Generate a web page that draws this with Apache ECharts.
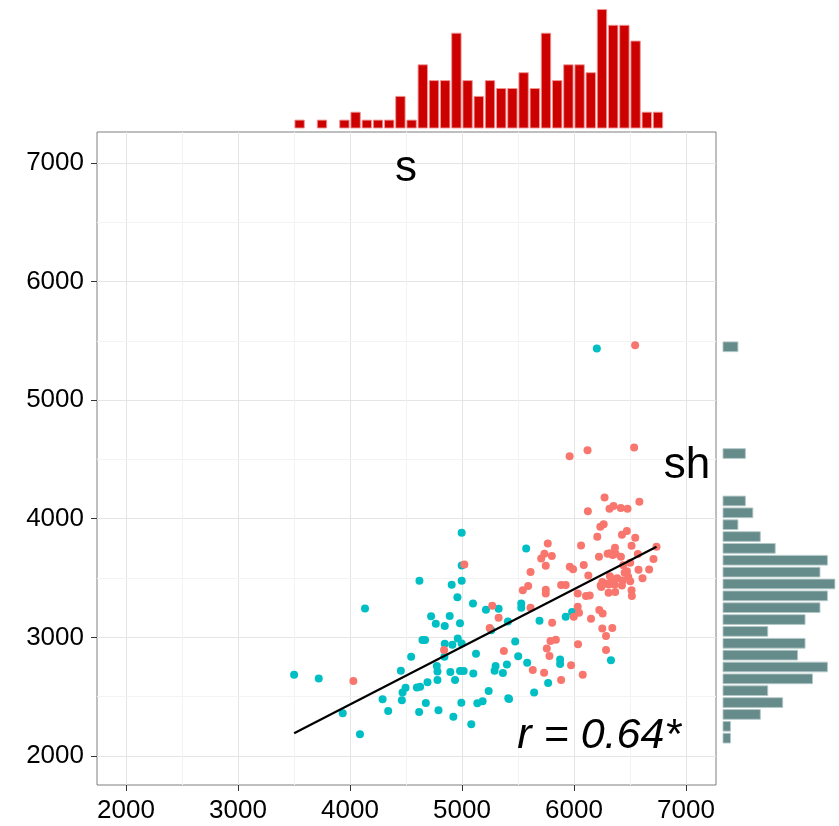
<!DOCTYPE html>
<html>
<head>
<meta charset="utf-8">
<script src="https://cdn.jsdelivr.net/npm/echarts@6/dist/echarts.min.js"></script>
<style>
  html, body { margin: 0; padding: 0; background: #fff; }
  #chart { width: 839px; height: 826px; }
</style>
</head>
<body>
<div id="chart"></div>
<script>
// scatter points, [x, y]
const tealPoints = [
  [3501, 2685], [3721, 2654], [4134, 3244], [3935, 2359], [4089, 2183],
  [4620, 3477], [4997, 3881], [4997, 3606], [4997, 3477], [4908, 3443],
  [4959, 3339], [5098, 3286], [5573, 3749], [5214, 3233], [5327, 3241],
  [5529, 3286], [5529, 3250], [4724, 3177], [4890, 3179], [4766, 3115],
  [4846, 3095], [4982, 3118], [4647, 2977], [4670, 2977], [4962, 2991],
  [4914, 2938], [4846, 2946], [4997, 2949], [4843, 2837], [4546, 2837],
  [5125, 2862], [4775, 2758], [4781, 2713], [4781, 2640], [4454, 2719],
  [4896, 2708], [4982, 2716], [5015, 2716], [5101, 2696], [4938, 2640],
  [4692, 2621], [4597, 2578], [4626, 2584], [4496, 2576], [4469, 2534],
  [4291, 2477], [4463, 2469], [4341, 2379], [4677, 2446], [4617, 2371],
  [4790, 2385], [4923, 2331], [4994, 2449], [5083, 2267], [5137, 2444],
  [5184, 2461], [5238, 2548], [5413, 2486], [5420, 2480], [5644, 2534],
  [5769, 2615], [5582, 2786], [5502, 2840], [5475, 2966], [5401, 2772],
  [5365, 2699], [5300, 2758], [5291, 2719], [5410, 3134], [5261, 3059],
  [5692, 3140], [5876, 2814], [5876, 2775], [5926, 3174], [5983, 3213],
  [6330, 2806], [6204, 5435]
];

const salmonPoints = [
  [4030, 2632], [5021, 3615], [4840, 2893], [5270, 3266], [5327, 3165],
  [5247, 3078], [5374, 2885], [5632, 2724], [5733, 2702], [5885, 2640],
  [5974, 2764], [6078, 2685], [5757, 2907], [5781, 2842], [5790, 2970],
  [5838, 2980], [5805, 3123], [5612, 3250], [5612, 3550], [5543, 3398],
  [5591, 3432], [5748, 3401], [5748, 3370], [5885, 3441], [5926, 3441],
  [5962, 3595], [5992, 3575], [5766, 3791], [5736, 3704], [5707, 3665],
  [5802, 3685], [5748, 3603], [6087, 3609], [6063, 3775], [6033, 3370],
  [6033, 3258], [6045, 3207], [6152, 3157], [6128, 3522], [6107, 3348],
  [6140, 3353], [6036, 2941], [6226, 3230], [6256, 3202], [6253, 3075],
  [6342, 3078], [6286, 3011], [6286, 2893], [6223, 3679], [6300, 3704],
  [6321, 3710], [6371, 3704], [6419, 3680], [6208, 3848], [6235, 3932],
  [6265, 3954], [6428, 3865], [6472, 3896], [6547, 3839], [6570, 3702],
  [6514, 3772], [6737, 3763], [6710, 3660], [6671, 3573], [6576, 3570],
  [6612, 3499], [6502, 3629], [6452, 3544], [6472, 3558], [6484, 3511],
  [6434, 3480], [6428, 3438], [6502, 3474], [6514, 3398], [6517, 3348],
  [6342, 3466], [6363, 3446], [6312, 3446], [6309, 3376], [6368, 3382],
  [6238, 3438], [6244, 3424], [6321, 3516], [6253, 3466], [6386, 3499],
  [5998, 3174], [6366, 3756], [6345, 3694], [6440, 3607], [6291, 3452],
  [6546, 5463], [5961, 4528], [6121, 4578], [6537, 4601], [6273, 4180],
  [6584, 4143], [6124, 4064], [6317, 4084], [6353, 4107], [6418, 4090],
  [6478, 4084]
];

// fitted line end points
const fitX = [3501, 6737];
const fitY = [2192, 3764];

// marginal histograms (bin start, width 100)
const xHistBins = [3500, 3600, 3700, 3800, 3900, 4000, 4100, 4200, 4300, 4400, 4500,
  4600, 4700, 4800, 4900, 5000, 5100, 5200, 5300, 5400, 5500,
  5600, 5700, 5800, 5900, 6000, 6100, 6200, 6300, 6400, 6500, 6600, 6700];
const xHistCounts = [1, 0, 1, 0, 1, 2, 1, 1, 1, 4, 1,
  8, 6, 6, 12, 6, 4, 6, 5, 5, 7,
  5, 12, 6, 8, 8, 7, 15, 13, 13, 11, 2, 2];

const yHistBins = [2100, 2200, 2300, 2400, 2500, 2600, 2700, 2800, 2900, 3000,
  3100, 3200, 3300, 3400, 3500, 3600, 3700, 3800, 3900, 4000,
  4100, 4500, 5400];
const yHistCounts = [1, 1, 5, 8, 6, 12, 14, 10, 11, 6,
  11, 13, 14, 15, 13, 14, 7, 5, 2, 4,
  3, 3, 2];

const tickValues = [2000, 3000, 4000, 5000, 6000, 7000];
const minorGrid = [2500, 3500, 4500, 5500, 6500];

const labels = [
  { text: 's', at: [4500, 6950], size: 44, italic: false },
  { text: 'sh', at: [7010, 4450], size: 44, italic: false },
  { text: 'r = 0.64*', at: [6225, 2170], size: 43, italic: true }
];

const X_MIN = 1741, X_MAX = 7268;
const Y_MIN = 1755, Y_MAX = 7261;
const BIN = 100;

const chart = echarts.init(document.getElementById('chart'));
const font = '"Liberation Sans", Arial, Helvetica, sans-serif';

const xHistData = xHistBins.map((b, i) => [b, xHistCounts[i]]).filter(d => d[1] > 0);
const yHistData = yHistBins.map((b, i) => [b, yHistCounts[i]]).filter(d => d[1] > 0);

const axisCommon = {
  type: 'value',
  axisLine: { show: false },
  axisTick: { show: true, length: 6, lineStyle: { color: '#333' }, customValues: tickValues },
  axisLabel: {
    color: '#000', fontSize: 26, fontFamily: font, customValues: tickValues, margin: 13,
    formatter: v => String(v)
  },
  splitLine: { show: true, lineStyle: { color: '#E5E5E5', width: 1 } }
};

const option = {
  animation: false,
  backgroundColor: '#fff',
  grid: [
    { left: 97, top: 132, width: 619, height: 653, show: true, borderColor: '#7F7F7F', borderWidth: 1, backgroundColor: '#fff' },
    { left: 97, top: 0, width: 619, height: 128 },
    { left: 723, top: 132, width: 116, height: 653 }
  ],
  xAxis: [
    { ...axisCommon, gridIndex: 0, min: X_MIN, max: X_MAX },
    { type: 'value', gridIndex: 1, min: X_MIN, max: X_MAX, show: false },
    { type: 'value', gridIndex: 2, min: 0, max: 15.55, show: false }
  ],
  yAxis: [
    { ...axisCommon, gridIndex: 0, min: Y_MIN, max: Y_MAX },
    { type: 'value', gridIndex: 1, min: 0, max: 16.2, show: false },
    { type: 'value', gridIndex: 2, min: Y_MIN, max: Y_MAX, show: false }
  ],
  series: [
    {
      // minor grid lines, kept under the points
      type: 'line', xAxisIndex: 0, yAxisIndex: 0, data: [], silent: true, z: 0,
      markLine: {
        z: 0, symbol: 'none', silent: true, label: { show: false },
        lineStyle: { color: '#F3F3F3', type: 'solid', width: 1 },
        data: minorGrid.map(v => ({ xAxis: v })).concat(minorGrid.map(v => ({ yAxis: v })))
      }
    },
    {
      type: 'scatter', xAxisIndex: 0, yAxisIndex: 0, data: tealPoints, z: 3,
      symbolSize: 8, itemStyle: { color: '#00BFC4', opacity: 1, borderWidth: 0 }
    },
    {
      type: 'scatter', xAxisIndex: 0, yAxisIndex: 0, data: salmonPoints, z: 3,
      symbolSize: 8, itemStyle: { color: '#F8766D', opacity: 1, borderWidth: 0 }
    },
    {
      type: 'line', xAxisIndex: 0, yAxisIndex: 0, z: 4,
      data: fitX.map((x, i) => [x, fitY[i]]),
      showSymbol: false, lineStyle: { color: '#000', width: 2.2 }
    },
    {
      // text annotations
      type: 'scatter', xAxisIndex: 0, yAxisIndex: 0, symbolSize: 0, silent: true, z: 5,
      itemStyle: { opacity: 1 },
      data: labels.map(l => ({
        value: l.at,
        label: {
          show: true, position: 'inside', formatter: l.text, color: '#000',
          fontSize: l.size, fontFamily: font, fontStyle: l.italic ? 'italic' : 'normal',
          textBorderWidth: 0
        }
      }))
    },
    {
      type: 'custom', xAxisIndex: 1, yAxisIndex: 1, data: xHistData,
      renderItem: (params, api) => {
        const b = api.value(0);
        const p0 = api.coord([b + 8, api.value(1)]);
        const p1 = api.coord([b + BIN - 8, 0]);
        return {
          type: 'rect',
          shape: { x: p0[0], y: p0[1], width: p1[0] - p0[0], height: p1[1] - p0[1] },
          style: { fill: '#CD0000', stroke: 'rgba(240,150,150,0.9)', lineWidth: 1 }
        };
      }
    },
    {
      type: 'custom', xAxisIndex: 2, yAxisIndex: 2, data: yHistData,
      encode: { x: 1, y: 0 },
      renderItem: (params, api) => {
        const b = api.value(0);
        const p0 = api.coord([0, b + BIN - 9]);
        const p1 = api.coord([api.value(1), b + 9]);
        return {
          type: 'rect',
          shape: { x: p0[0], y: p0[1], width: p1[0] - p0[0], height: p1[1] - p0[1] },
          style: { fill: '#668B8B', stroke: 'rgba(180,200,200,0.9)', lineWidth: 1 }
        };
      }
    }
  ]
};

chart.setOption(option);
</script>
</body>
</html>
